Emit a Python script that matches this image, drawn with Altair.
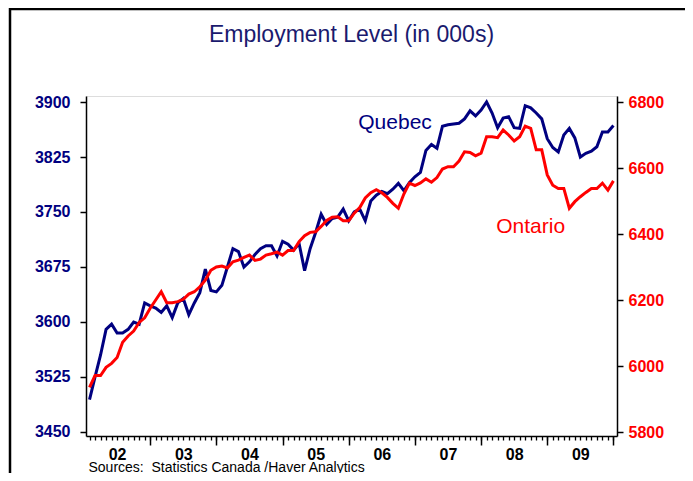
import altair as alt
import pandas as pd

# Monthly data, Jan 2002 .. Dec 2009 (thousands)
quebec = [3494, 3525, 3555, 3590, 3597, 3585, 3585, 3590, 3600, 3597, 3626, 3622,
          3619, 3613, 3622, 3606, 3626, 3632, 3610, 3626, 3640, 3672, 3643, 3641,
          3650, 3675, 3700, 3696, 3675, 3682, 3692, 3700, 3704, 3704, 3690, 3710,
          3706, 3698, 3707, 3670, 3700, 3722, 3747, 3733, 3741, 3743, 3754, 3738,
          3750, 3754, 3738, 3765, 3773, 3778, 3775, 3781, 3789, 3779, 3790, 3798,
          3804, 3834, 3842, 3837, 3867, 3869, 3870, 3871, 3877, 3888, 3881, 3889,
          3900, 3885, 3865, 3878, 3880, 3865, 3864, 3895, 3892, 3885, 3877, 3850,
          3838, 3832, 3855, 3864, 3851, 3825, 3830, 3833, 3839, 3859, 3859, 3868]
ontario = [5935, 5971, 5971, 5996, 6008, 6026, 6072, 6091, 6106, 6132, 6146, 6175,
           6200, 6225, 6192, 6192, 6195, 6202, 6218, 6225, 6240, 6260, 6290, 6300,
           6303, 6297, 6316, 6321, 6329, 6336, 6320, 6324, 6336, 6340, 6345, 6336,
           6350, 6350, 6377, 6395, 6405, 6407, 6423, 6441, 6451, 6452, 6440, 6440,
           6463, 6480, 6509, 6525, 6534, 6525, 6511, 6493, 6478, 6521, 6554, 6547,
           6555, 6567, 6557, 6571, 6597, 6604, 6604, 6621, 6649, 6647, 6637, 6645,
           6695, 6695, 6692, 6715, 6700, 6682, 6695, 6727, 6720, 6655, 6655, 6579,
           6548, 6538, 6538, 6478, 6498, 6513, 6526, 6538, 6538, 6554, 6533, 6561]
start_year = 2002
years = list(range(2002, 2010))
left_ticks = [3450, 3525, 3600, 3675, 3750, 3825, 3900]
right_ticks = [5800, 6000, 6200, 6400, 6600, 6800]
title_text = "Employment Level (in 000s)"
source_text = "Sources:\u00a0 Statistics Canada /Haver Analytics"
series_labels = [("Quebec", 2006.70, 3872), ("Ontario", 2008.75, 6421)]

NAVY = "#000080"
RED = "#ff0000"
FONT = "Liberation Sans"

# month-end positions in decimal years
t = [start_year + (i + 1) / 12 for i in range(len(quebec))]
df = pd.DataFrame({"t": t, "quebec": quebec, "ontario": ontario})

xdom = [2002.030, 2010.054]
ldom = [3444.5, 3908.2]
rdom = [5787.9, 6818.2]

month_vals = [start_year + k / 12 for k in range(1, 97)]
year_vals = [y + 1 for y in years]
mid_vals = [y + 0.5 for y in years]

xscale = alt.Scale(domain=xdom, nice=False, zero=False)
lscale = alt.Scale(domain=ldom, nice=False, zero=False)
rscale = alt.Scale(domain=rdom, nice=False, zero=False)

base = alt.Chart(df)

q_line = base.mark_line(color=NAVY, strokeWidth=3).encode(
    x=alt.X("t:Q", scale=xscale,
            axis=alt.Axis(orient="bottom", values=month_vals, labels=False, tickSize=4,
                          tickWidth=1.3, tickColor="black", domain=True,
                          domainColor="black", domainWidth=1.5, grid=False, title=None)),
    y=alt.Y("quebec:Q", scale=lscale,
            axis=alt.Axis(orient="left", values=left_ticks, format="d", tickSize=6,
                          tickWidth=1.5, tickColor="black", domainColor="black",
                          domainWidth=1.5, labelColor=NAVY, labelFont=FONT,
                          labelFontSize=16, labelFontWeight="bold", labelPadding=10,
                          grid=False, title=None)),
)

o_line = base.mark_line(color=RED, strokeWidth=3).encode(
    x=alt.X("t:Q", scale=xscale,
            axis=alt.Axis(orient="bottom", values=year_vals, labels=False, tickSize=9,
                          tickWidth=1.5, tickColor="black", domain=False, grid=False,
                          title=None)),
    y=alt.Y("ontario:Q", scale=rscale,
            axis=alt.Axis(orient="right", values=right_ticks, format="d", tickSize=6,
                          tickWidth=1.5, tickColor="black", domainColor="black",
                          domainWidth=1.5, labelColor=RED, labelFont=FONT,
                          labelFontSize=16, labelFontWeight="bold", labelPadding=5,
                          grid=False, title=None)),
)

lab_df = pd.DataFrame({"name": [series_labels[0][0]], "t": [series_labels[0][1]],
                       "v": [series_labels[0][2]]})
q_text = alt.Chart(lab_df).mark_text(color=NAVY, font=FONT, fontSize=21).encode(
    x=alt.X("t:Q", scale=xscale,
            axis=alt.Axis(orient="bottom", values=mid_vals, ticks=False, tickSize=0,
                          domain=False,
                          labelExpr="'0' + (floor(datum.value) - 2000)",
                          labelFont=FONT, labelFontSize=16, labelFontWeight="bold",
                          labelColor="black", labelPadding=10, grid=False,
                          title=source_text, titleFont=FONT, titleFontSize=14,
                          titleFontWeight="normal", titleColor="black",
                          titleAnchor="start", titleAlign="left", titleX=2, titleY=31,
                          titleBaseline="middle")),
    y=alt.Y("v:Q", scale=lscale, axis=None),
    text="name:N",
)

on_df = pd.DataFrame({"name": [series_labels[1][0]], "t": [series_labels[1][1]],
                      "v": [series_labels[1][2]]})
o_text = alt.Chart(on_df).mark_text(color=RED, font=FONT, fontSize=21).encode(
    x=alt.X("t:Q", scale=xscale, axis=None),
    y=alt.Y("v:Q", scale=rscale, axis=None),
    text="name:N",
)

frame = alt.Chart(lab_df).mark_rect(fill=None, stroke="black", strokeWidth=2.5).encode(
    x=alt.value(-76), x2=alt.value(603), y=alt.value(-87), y2=alt.value(420)
)

chart = alt.layer(q_line, o_line, q_text, o_text, frame).resolve_scale(
    y="independent"
).resolve_axis(x="independent", y="independent").properties(
    width=531, height=340,
    autosize=alt.AutoSizeParams(type="none"),
    padding={"left": 78, "top": 88, "right": 68, "bottom": 37},
    title=alt.TitleParams(title_text, font=FONT, fontSize=23, fontWeight="normal",
                          color="#1a1a6e", anchor="middle", offset=0, dy=57,
                          baseline="alphabetic"),
).configure_view(stroke="black", strokeWidth=1.5).configure(background="white")

chart.save("out.html", embed_options={"renderer": "svg", "actions": False})
